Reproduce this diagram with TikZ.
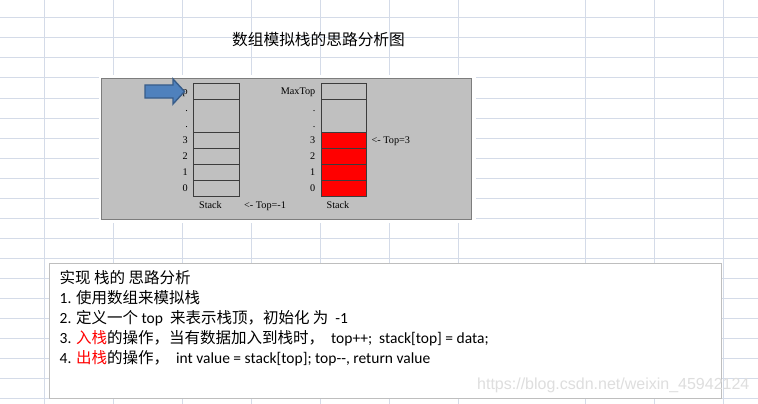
\documentclass[tikz,border=0pt]{standalone}
\usepackage{fontspec}
\setmainfont{Carlito}
\newfontfamily\cjk{Noto Sans CJK SC}
\newfontfamily\tnr{Liberation Serif}
\newfontfamily\arialf{Liberation Sans}
\definecolor{gridc}{RGB}{212,219,232}
\definecolor{panelgray}{RGB}{192,192,192}
\definecolor{paneledge}{RGB}{125,125,125}
\definecolor{celledge}{RGB}{60,60,60}
\definecolor{arrowfill}{RGB}{79,129,189}
\definecolor{arrowedge}{RGB}{56,93,138}
\definecolor{txtboxedge}{RGB}{190,190,190}
\definecolor{wmark}{RGB}{222,222,222}
\definecolor{stackred}{RGB}{255,0,0}
\tikzset{
  gridline/.style={draw=gridc, line width=1pt},
  panel/.style={draw=paneledge, fill=panelgray, line width=1.5pt},
  cellbox/.style={draw=celledge, line width=0.8pt},
  redcell/.style={cellbox, fill=stackred},
  lbl/.style={inner sep=0pt, font=\tnr\fontsize{10.2}{12}\selectfont},
  titletext/.style={inner sep=0pt, font=\cjk\fontsize{15.7}{18}\selectfont},
  bodytext/.style={inner sep=0pt, anchor=base west, font=\fontsize{15.5}{18}\selectfont},
  txtbox/.style={draw=txtboxedge, fill=white, line width=1.5pt},
  bluearrow/.style={draw=arrowedge, fill=arrowfill, line width=1.4pt, line join=miter},
  wmtext/.style={inner sep=0pt, anchor=base west, text=wmark, font=\arialf\fontsize{16}{18}\selectfont}
}
\begin{document}
\begin{tikzpicture}[x=1pt,y=-1pt]
\useasboundingbox (0,0) rectangle (758,404);
\fill[white] (0,0) rectangle (758,404);
% spreadsheet grid
\foreach \yy in {18,38,...,398} \draw[gridline] (0,\yy) -- (758,\yy);
\foreach \xx in {44,113,182,251,320,389,458,585,654,723} \draw[gridline] (\xx,0) -- (\xx,404);
% title
\node[titletext] (title) at (318.5,40) {数组模拟栈的思路分析图};
% panel
\fill[white] (98.5,75) rectangle (476,223);
\draw[panel] (101.5,78.5) rectangle (471.5,219.5);
% left stack
\draw[cellbox] (193.3,83) rectangle (239.3,99);
\draw[cellbox] (193.3,99) rectangle (239.3,132);
\draw[cellbox] (193.3,132) rectangle (239.3,148);
\draw[cellbox] (193.3,148) rectangle (239.3,164);
\draw[cellbox] (193.3,164) rectangle (239.3,180);
\draw[cellbox] (193.3,180) rectangle (239.3,196);
\node[lbl, anchor=base east] (lmax) at (188,95) {MaxTop};
\node[lbl, anchor=base east] (ld1) at (188,111) {.};
\node[lbl, anchor=base east] (ld2) at (188,127) {.};
\node[lbl, anchor=base east] (l3) at (188,143.5) {3};
\node[lbl, anchor=base east] (l2) at (188,159.5) {2};
\node[lbl, anchor=base east] (l1) at (188,175.5) {1};
\node[lbl, anchor=base east] (l0) at (188,191.5) {0};
\node[lbl, anchor=base] (lstack) at (210.5,208.5) {Stack};
\node[lbl, anchor=base west] (ltop) at (244,208.5) {<- Top=-1};
% blue arrow over the MaxTop label
\draw[bluearrow] (145,85) -- (173,85) -- (173,79) -- (184.5,91.5) -- (173,104) -- (173,98) -- (145,98) -- cycle;
% right stack
\draw[cellbox] (321.7,83) rectangle (366.7,99);
\draw[cellbox] (321.7,99) rectangle (366.7,132);
\draw[redcell] (321.7,132) rectangle (366.7,148);
\draw[redcell] (321.7,148) rectangle (366.7,164);
\draw[redcell] (321.7,164) rectangle (366.7,180);
\draw[redcell] (321.7,180) rectangle (366.7,196);
\node[lbl, anchor=base east] (rmax) at (315.5,95) {MaxTop};
\node[lbl, anchor=base east] (rd1) at (315.5,111) {.};
\node[lbl, anchor=base east] (rd2) at (315.5,127) {.};
\node[lbl, anchor=base east] (r3) at (315.5,143.5) {3};
\node[lbl, anchor=base east] (r2) at (315.5,159.5) {2};
\node[lbl, anchor=base east] (r1) at (315.5,175.5) {1};
\node[lbl, anchor=base east] (r0) at (315.5,191.5) {0};
\node[lbl, anchor=base] (rstack) at (338,208.5) {Stack};
\node[lbl, anchor=base west] (rtop) at (371.5,143.5) {<- Top=3};
% text box
\draw[txtbox] (49.5,263.5) rectangle (721.5,398.5);
\node[bodytext] (t0) at (59.5,283.5) {\cjk 实现 栈的 思路分析};
\node[bodytext] (t1) at (59.5,303.5) {1. {\cjk 使用数组来模拟栈}};
\node[bodytext] (t2) at (59.5,323.5) {2. {\cjk 定义一个} top\ \ {\cjk 来表示栈顶，初始化 为}\ \ -1};
\node[bodytext] (t3) at (59.5,343.5) {3. {\cjk\color{stackred}入栈}{\cjk 的操作，当有数据加入到栈时，}\ \ top++;\ \ stack[top] = data;};
\node[bodytext] (t4) at (59.5,363.5) {4. {\cjk\color{stackred}出栈}{\cjk 的操作，}\ \ int value = stack[top]; top-{}-, return value};
\node[wmtext] (wm) at (477,389) {https://blog.csdn.net/weixin\_45942124};
\end{tikzpicture}
\end{document}
